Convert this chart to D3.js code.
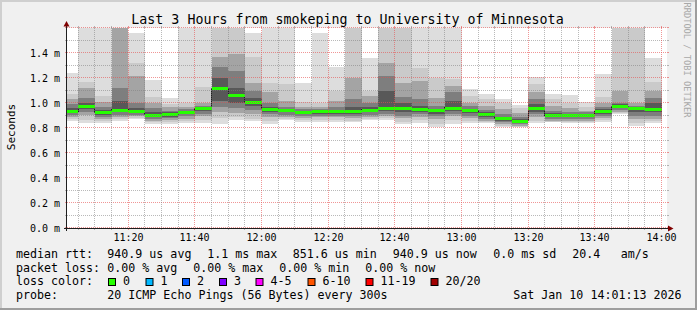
<!DOCTYPE html>
<html>
<head>
<meta charset="utf-8">
<script src="https://cdn.jsdelivr.net/npm/d3@7"></script>
<style>
body { margin: 0; background: #f0f0f0; }
svg text { font-family: "DejaVu Sans Mono", monospace; fill: #000; }
</style>
</head>
<body>
<div id="chart-area"><svg></svg></div>
<script>
const chartSize = { width: 697, height: 310 };
const plot = { left: 67, top: 28, width: 600, height: 200 };

// 5 minute steps, start of each step
const slots = ['11:00', '11:05', '11:10', '11:15', '11:20', '11:25', '11:30', '11:35', '11:40', '11:45', '11:50', '11:55',
    '12:00', '12:05', '12:10', '12:15', '12:20', '12:25', '12:30', '12:35', '12:40', '12:45', '12:50', '12:55',
    '13:00', '13:05', '13:10', '13:15', '13:20', '13:25', '13:30', '13:35', '13:40', '13:45', '13:50', '13:55'];
const xTicks = ['11:20', '11:40', '12:00', '12:20', '12:40', '13:00', '13:20', '13:40', '14:00'];
const yTicks = [0, 0.2, 0.4, 0.6, 0.8, 1.0, 1.2, 1.4];

// rtt in ms, sorted ping ranks (out of 20)
const median = [0.936, 0.976, 0.925, 0.946, 0.938, 0.906, 0.909, 0.928, 0.957, 1.12, 1.061, 1.008,
    0.954, 0.946, 0.93, 0.933, 0.933, 0.936, 0.946, 0.96, 0.957, 0.954, 0.941, 0.962,
    0.944, 0.909, 0.877, 0.859, 0.957, 0.901, 0.901, 0.906, 0.936, 0.976, 0.957, 0.95];
const p20 = [1.24, 1.7, 1.7, 1.8, 1.563, 1.187, 1.04, 1.7, 1.7, 1.8, 1.8, 1.557,
    1.7, 1.7, 1.163, 1.563, 1.29, 1.8, 1.357, 1.8, 1.8, 1.7, 1.7, 1.7,
    1.112, 1.075, 1.035, 0.984, 1.205, 1.075, 1.064, 1.01, 1.232, 1.8, 1.8, 1.363];
const p19 = [1.075, 1.17, 1.06, 1.7, 1.32, 1.05, 0.995, 1.0, 1.13, 1.7, 1.7, 1.37,
    1.16, 1.15, 1.01, 1.0, 1.1, 1.7, 1.1, 1.7, 1.7, 1.28, 1.2, 1.19,
    1.06, 1.03, 1.0, 0.96, 1.15, 1.03, 1.0, 0.97, 1.05, 1.7, 1.7, 1.17];
const p17 = [1.035, 1.12, 1.01, 1.7, 1.22, 1.0, 0.965, 0.97, 1.0, 1.37, 1.39, 1.16,
    1.09, 1.02, 0.97, 0.97, 1.02, 1.2, 1.06, 1.32, 1.16, 1.18, 1.04, 1.14,
    1.0, 0.98, 0.95, 0.92, 1.09, 0.98, 0.96, 0.94, 1.0, 1.1, 1.0, 1.1];
const p15 = [0.995, 1.04, 0.97, 1.12, 1.0, 0.96, 0.94, 0.95, 0.98, 1.29, 1.26, 1.1,
    1.0, 0.97, 0.95, 0.95, 0.97, 1.03, 1.0, 1.22, 1.05, 1.03, 0.98, 1.09,
    0.975, 0.945, 0.91, 0.89, 1.03, 0.94, 0.93, 0.925, 0.97, 1.0, 0.975, 1.04];
const p13 = [0.96, 1.0, 0.945, 1.02, 0.96, 0.93, 0.925, 0.94, 0.97, 1.2, 1.12, 1.04,
    0.97, 0.955, 0.94, 0.94, 0.945, 0.97, 0.965, 1.1, 1.0, 0.98, 0.955, 1.02,
    0.955, 0.925, 0.89, 0.87, 0.99, 0.92, 0.915, 0.915, 0.95, 0.99, 0.965, 1.0];
const p8 = [0.92, 0.955, 0.905, 0.925, 0.92, 0.89, 0.892, 0.91, 0.935, 1.02, 1.0, 0.98,
    0.93, 0.925, 0.91, 0.915, 0.915, 0.915, 0.925, 0.935, 0.925, 0.93, 0.915, 0.935,
    0.92, 0.89, 0.86, 0.845, 0.93, 0.885, 0.885, 0.89, 0.915, 0.96, 0.93, 0.925];
const p6 = [0.905, 0.93, 0.89, 0.905, 0.905, 0.875, 0.878, 0.895, 0.915, 0.97, 0.96, 0.945,
    0.91, 0.905, 0.895, 0.9, 0.9, 0.9, 0.905, 0.915, 0.9, 0.91, 0.895, 0.915,
    0.9, 0.875, 0.845, 0.83, 0.91, 0.87, 0.87, 0.875, 0.9, 0.945, 0.9, 0.9];
const p4 = [0.89, 0.905, 0.87, 0.89, 0.895, 0.86, 0.862, 0.875, 0.895, 0.93, 0.92, 0.91,
    0.885, 0.89, 0.88, 0.885, 0.885, 0.88, 0.89, 0.895, 0.88, 0.89, 0.87, 0.895,
    0.88, 0.86, 0.83, 0.818, 0.885, 0.86, 0.855, 0.86, 0.88, 0.93, 0.87, 0.875];
const p2 = [0.87, 0.865, 0.855, 0.872, 0.882, 0.845, 0.845, 0.855, 0.865, 0.88, 0.885, 0.875,
    0.855, 0.875, 0.862, 0.865, 0.862, 0.86, 0.875, 0.88, 0.85, 0.865, 0.83, 0.865,
    0.855, 0.845, 0.82, 0.812, 0.86, 0.85, 0.845, 0.85, 0.862, 0.918, 0.84, 0.855];
const p1 = [0.86, 0.837, 0.843, 0.86, 0.875, 0.832, 0.832, 0.837, 0.837, 0.832, 0.867, 0.86,
    0.834, 0.867, 0.85, 0.85, 0.85, 0.845, 0.867, 0.867, 0.834, 0.84, 0.808, 0.832,
    0.84, 0.84, 0.81, 0.806, 0.84, 0.845, 0.84, 0.84, 0.85, 0.912, 0.82, 0.84];

const lossLabels = ['0', '1', '2', '3', '4-5', '6-10', '11-19', '20/20'];
const lossColors = ['#26ff00', '#00b8ff', '#0059ff', '#7e00ff', '#ff00ff', '#ff5500', '#ff0000', '#a10000'];
const rttStats = ['940.9 us avg', '1.1 ms max', '851.6 us min', '940.9 us now', '0.0 ms sd', '20.4', 'am/s'];
const lossStats = ['0.00 % avg', '0.00 % max', '0.00 % min', '0.00 % now'];
const title = 'Last 3 Hours from smokeping to University of Minnesota';
const probeText = '20 ICMP Echo Pings (56 Bytes) every 300s';
const stamp = 'Sat Jan 10 14:01:13 2026';

const parseHM = d3.timeParse('%H:%M');
const parseHMS = d3.timeParse('%H:%M:%S');

const x = d3.scaleTime()
    .domain([parseHMS('11:01:37'), parseHMS('14:01:37')])
    .range([plot.left, plot.left + plot.width]);
const y = d3.scaleLinear()
    .domain([0, 1.6])
    .range([plot.top + plot.height, plot.top]);

const px = v => Math.floor(v) + 0.5;
const py = v => Math.round(v) - 0.5;
const _last = arr => arr[arr.length - 1];

const svg = d3.select('#chart-area svg')
    .attr('width', chartSize.width)
    .attr('height', chartSize.height);

const drawFrame = () => {
    svg.append('rect').attr('width', chartSize.width).attr('height', chartSize.height).attr('fill', '#f0f0f0');
    svg.append('rect').attr('x', 0).attr('y', 0).attr('width', chartSize.width).attr('height', 2).attr('fill', '#cfcfcf');
    svg.append('rect').attr('x', 0).attr('y', 0).attr('width', 2).attr('height', chartSize.height).attr('fill', '#cfcfcf');
    svg.append('rect').attr('x', 0).attr('y', chartSize.height - 2).attr('width', chartSize.width).attr('height', 2).attr('fill', '#9e9e9e');
    svg.append('rect').attr('x', chartSize.width - 2).attr('y', 0).attr('width', 2).attr('height', chartSize.height).attr('fill', '#9e9e9e');
    svg.append('rect')
        .attr('x', plot.left).attr('y', plot.top)
        .attr('width', plot.width).attr('height', plot.height)
        .attr('fill', '#ffffff');
    svg.append('clipPath').attr('id', 'plot-clip')
        .append('rect')
        .attr('x', plot.left).attr('y', plot.top)
        .attr('width', plot.width).attr('height', plot.height);
}

const drawSmoke = () => {
    const g = svg.append('g').attr('clip-path', 'url(#plot-clip)').attr('shape-rendering', 'crispEdges');
    const bands = [
        { lo: p1, hi: p20, color: '#dddddd' },
        { lo: p2, hi: p19, color: '#cacaca' },
        { lo: p4, hi: p17, color: '#a4a4a4' },
        { lo: p6, hi: p15, color: '#7e7e7e' },
        { lo: p8, hi: p13, color: '#585858' }
    ];
    const cols = slots.map((s, i) => {
        const start = parseHM(s);
        return { i, start, end: d3.timeMinute.offset(start, 5) };
    });
    const top = v => Math.round(y(Math.min(v, 1.65)));
    bands.forEach(band => {
        g.append('g').selectAll('rect')
            .data(cols)
            .enter()
            .append('rect')
            .attr('x', d => Math.round(x(d.start)))
            .attr('width', d => Math.round(x(d.end)) - Math.round(x(d.start)))
            .attr('y', d => top(band.hi[d.i]))
            .attr('height', d => Math.round(y(band.lo[d.i])) - top(band.hi[d.i]))
            .attr('fill', band.color);
    });

    const steps = cols.map(d => [x(d.start), y(median[d.i])]);
    steps.push([x(_last(cols).end), y(_last(median))]);
    g.append('path')
        .attr('d', d3.line().curve(d3.curveStepAfter)(steps))
        .attr('fill', 'none')
        .attr('stroke', '#202020')
        .attr('stroke-width', 1);

    g.append('g').selectAll('rect')
        .data(cols)
        .enter()
        .append('rect')
        .attr('x', d => Math.round(x(d.start)))
        .attr('width', d => Math.round(x(d.end)) - Math.round(x(d.start)))
        .attr('y', d => Math.round(y(median[d.i])) - 1.5)
        .attr('height', 3)
        .attr('fill', lossColors[0]);
}

const drawGrid = () => {
    const g = svg.append('g').attr('class', 'grid');
    const x0 = plot.left, x1 = plot.left + plot.width;
    const y0 = plot.top + plot.height, y1 = plot.top;
    const minorColor = 'rgba(128,128,128,0.55)';
    const majorColor = 'rgba(230,80,80,0.6)';

    const hLines = d3.range(0, 17).map(k => ({ v: k / 10, major: k % 2 == 0 }));
    hLines.forEach(({ v, major }) => {
        const yy = py(y(v));
        const c = major ? majorColor : minorColor;
        g.append('line').attr('x1', x0 - 2).attr('x2', x0).attr('y1', yy).attr('y2', yy).attr('stroke', c);
        g.append('line').attr('x1', x1).attr('x2', x1 + 2).attr('y1', yy).attr('y2', yy).attr('stroke', c);
        g.append('line').attr('x1', x0).attr('x2', x1).attr('y1', yy).attr('y2', yy)
            .attr('stroke', c).attr('stroke-dasharray', '1,1');
    });

    const majors = xTicks.map(parseHM).map(d => +d);
    x.ticks(d3.timeMinute.every(5)).forEach(t => {
        const xx = px(x(t));
        const c = majors.includes(+t) ? majorColor : minorColor;
        g.append('line').attr('x1', xx).attr('x2', xx).attr('y1', y0).attr('y2', y0 + 2).attr('stroke', c);
        g.append('line').attr('x1', xx).attr('x2', xx).attr('y1', y1 - 2).attr('y2', y1).attr('stroke', c);
        g.append('line').attr('x1', xx).attr('x2', xx).attr('y1', y1).attr('y2', y0)
            .attr('stroke', c).attr('stroke-dasharray', '1,1');
    });
}

const drawAxes = () => {
    const g = svg.append('g').attr('class', 'axes');
    const axisColor = '#1f1f1f';
    const arrowColor = '#800000';
    g.append('line').attr('x1', 66.5).attr('x2', 66.5).attr('y1', 231).attr('y2', 25)
        .attr('stroke', axisColor);
    g.append('line').attr('x1', 64).attr('x2', 669).attr('y1', 228.5).attr('y2', 228.5)
        .attr('stroke', axisColor);
    g.append('path').attr('d', 'M63.5,26.5 L69.5,26.5 L66.5,21 Z').attr('fill', arrowColor);
    g.append('path').attr('d', 'M668,225.5 L668,231.5 L673.5,228.5 Z').attr('fill', arrowColor);

    g.selectAll('.y-label')
        .data(yTicks)
        .enter()
        .append('text')
        .attr('class', 'y-label')
        .attr('x', 60)
        .attr('y', d => py(y(d)) + 4)
        .attr('text-anchor', 'end')
        .style('font-size', '10px')
        .text(d => `${d.toFixed(1)} m`);

    g.selectAll('.x-label')
        .data(xTicks)
        .enter()
        .append('text')
        .attr('class', 'x-label')
        .attr('x', d => px(x(parseHM(d))))
        .attr('y', 240.5)
        .attr('text-anchor', 'middle')
        .style('font-size', '10px')
        .text(d => d);

    svg.append('text')
        .attr('transform', 'translate(15,127) rotate(-90)')
        .attr('text-anchor', 'middle')
        .style('font-size', '11px')
        .text('Seconds');
}

const drawTitle = () => {
    svg.append('text')
        .attr('x', 347.5)
        .attr('y', 24)
        .attr('text-anchor', 'middle')
        .style('font-size', '13.3px')
        .text(title);

    svg.append('text')
        .attr('transform', 'translate(684,60) rotate(90)')
        .attr('text-anchor', 'middle')
        .style('font-size', '8.7px')
        .style('fill', '#a8a8a8')
        .text('RRDTOOL / TOBI OETIKER');
}

const drawLegend = () => {
    const g = svg.append('g').attr('class', 'legend').style('font-size', '11.65px');
    const rows = [258.3, 271.7, 285.2, 298.6];
    const addText = (tx, ty, s) => g.append('text').attr('x', tx).attr('y', ty).text(s);

    addText(16, rows[0], 'median rtt:');
    const rttX = [107.3, 207.3, 292.7, 392.7, 493.3, 572.3, 620.7];
    rttStats.forEach((s, i) => addText(rttX[i], rows[0], s));

    addText(16, rows[1], 'packet loss:');
    const lossX = [107.3, 193.3, 279.3, 365.3];
    lossStats.forEach((s, i) => addText(lossX[i], rows[1], s));

    addText(16, rows[2], 'loss color:');
    const boxX = [108, 145.5, 182, 219, 255.5, 307.5, 365.5, 430.5];
    lossLabels.forEach((s, i) => {
        g.append('rect')
            .attr('x', boxX[i] + 0.5).attr('y', 278.5)
            .attr('width', 7).attr('height', 7)
            .attr('fill', lossColors[i])
            .attr('stroke', '#000');
        addText(boxX[i] + 15, rows[2], s);
    });

    addText(16, rows[3], 'probe:');
    addText(107.3, rows[3], probeText);
    addText(513.3, rows[3], stamp);
}

const main = () => {
    drawFrame();
    drawSmoke();
    drawGrid();
    drawAxes();
    drawTitle();
    drawLegend();
}

main();
</script>
</body>
</html>
